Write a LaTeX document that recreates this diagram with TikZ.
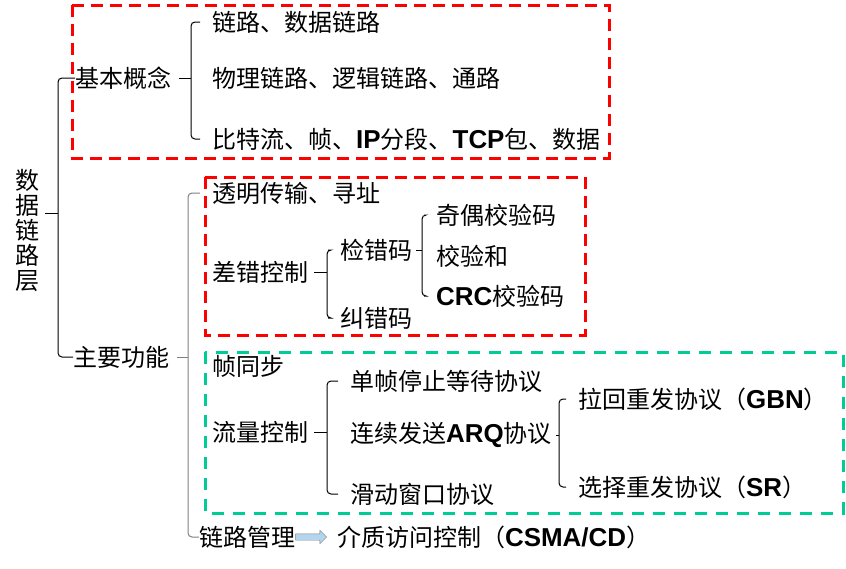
\documentclass[tikz,border=0pt]{standalone}
\usepackage{fontspec}
\usepackage{tikz}
\setmainfont{Noto Sans CJK SC}
\newfontfamily\latin[Scale=1.08]{Liberation Sans}
\newcommand{\en}[1]{{\latin\bfseries #1}}
\definecolor{boxred}{RGB}{255,0,0}
\definecolor{boxgreen}{RGB}{0,204,150}
\definecolor{arrowblue}{RGB}{180,213,238}
\usetikzlibrary{positioning,shapes.arrows}
\tikzset{%
  item/.style={anchor=west, inner sep=0pt, font=\fontsize{24}{28}\selectfont},% one text of the tree
  brk/.style={draw, line width=1pt, rounded corners=4pt},% bracket
  redbox/.style={draw=boxred, line width=3pt, dash pattern=on 12pt off 7pt},
  greenbox/.style={draw=boxgreen, line width=3pt, dash pattern=on 12pt off 9pt},
  flow/.style={draw=gray, fill=arrowblue, shape=single arrow, single arrow head extend=3.5pt,
    minimum height=31pt, minimum width=13pt, inner sep=3pt}% link management arrow
}

\begin{document}
\begin{tikzpicture}[x=1pt, y=-1pt]
\useasboundingbox (0,0) rectangle (846,568);

% dashed frames
\draw[redbox] (72,5) rectangle (609,158);
\draw[redbox] (205,177) rectangle (585,335);
\draw[greenbox] (205,352) rectangle (843,513);

\node[inner sep=0pt, align=center, font=\fontsize{24}{25}\selectfont] (root) at (28,230) {数\\据\\链\\路\\层};

\node[item] (jb) at (75,78) {基本概念};
\node[item] (j1) at (212,22) {链路、数据链路};
\node[item] (j2) at (212,78) {物理链路、逻辑链路、通路};
\node[item] (j3) at (212,139) {比特流、帧、\en{IP}分段、\en{TCP}包、数据};

\node[item] (zy) at (73,357) {主要功能};
\node[item] (t1) at (212,193) {透明传输、寻址};
\node[item] (t2) at (212,272) {差错控制};
\node[item] (t3) at (212,366) {帧同步};
\node[item] (t4) at (212,432) {流量控制};
\node[item] (t5) at (199,537) {链路管理};

\node[item] (e1) at (340,250) {检错码};
\node[item] (e2) at (340,318) {纠错码};
\node[item] (c1) at (436,215) {奇偶校验码};
\node[item] (c2) at (436,256) {校验和};
\node[item] (c3) at (436,296) {\en{CRC}校验码};

\node[item] (f1) at (350,381) {单帧停止等待协议};
\node[item] (f2) at (350,435) {连续发送\en{ARQ}协议};
\node[item] (f3) at (350,494) {滑动窗口协议};
\node[item] (g1) at (578,399) {拉回重发协议（\en{GBN}）};
\node[item] (g2) at (578,487) {选择重发协议（\en{SR}）};

\node[flow, right=0pt of t5] (ar) {};
\node[item, right=10pt of ar] (mac) {介质访问控制（\en{CSMA/CD}）};

% brackets
\coordinate (v0) at (58,0);
\coordinate (v1) at (191,0);
\coordinate (v2) at (188,0);
\coordinate (v3) at (327,0);
\coordinate (v4) at (422,0);
\coordinate (v5) at (327,0);
\coordinate (v6) at (559,0);

\draw[brk] (jb.west) -- (jb.west -| v0) |- (zy.west);
\draw[brk] (root.east) ++(5,-17) -- (v0 |- 0,213);
\draw[brk] ([xshift=-12pt]j1.west) -- (j1.west -| v1) |- ([xshift=-12pt]j3.west);
\draw[brk] ([xshift=8pt]jb.east) -- (jb.east -| v1);
\draw[brk, gray] ([xshift=-12pt]t1.west) -- (t1.west -| v2) |- (t5.west);
\draw[brk, gray] ([xshift=8pt]zy.east) -- (zy.east -| v2);
\draw[brk] ([xshift=-12pt]e1.west) -- (e1.west -| v3) |- ([xshift=-12pt]e2.west);
\draw[brk] ([xshift=6pt]t2.east) -- (t2.east -| v3);
\draw[brk] ([xshift=-12pt]c1.west) -- (c1.west -| v4) |- ([xshift=-12pt]c3.west);
\draw[brk] ([xshift=4pt]e1.east) -- (e1.east -| v4);
\draw[brk] ([xshift=-12pt]f1.west) -- (f1.west -| v5) |- ([xshift=-12pt]f3.west);
\draw[brk] ([xshift=6pt]t4.east) -- (t4.east -| v5);
\draw[brk] ([xshift=-12pt]g1.west) -- (g1.west -| v6) |- ([xshift=-12pt]g2.west);
\draw[brk] ([xshift=4pt]f2.east) -- (f2.east -| v6);

\end{tikzpicture}
\end{document}
